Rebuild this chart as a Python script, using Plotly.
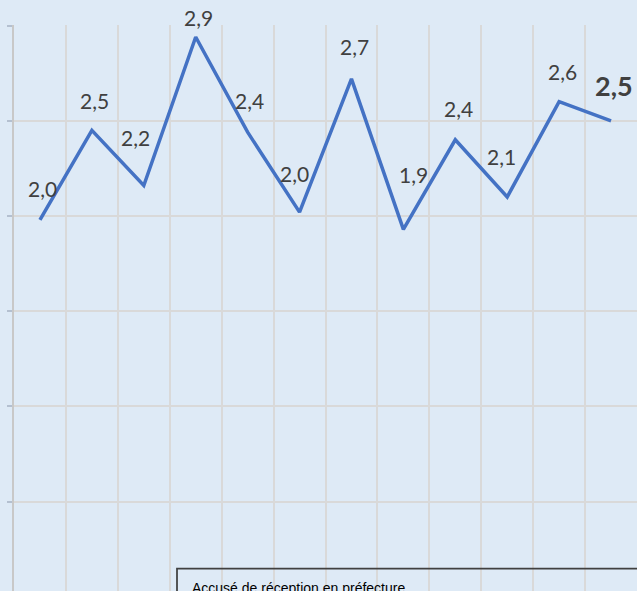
import plotly.graph_objects as go

# Data
periods = list(range(12))
values = [1.98, 2.45, 2.16, 2.94, 2.44, 2.02, 2.72, 1.93, 2.40, 2.10, 2.60, 2.50]
label_dx = [3, 3, -8, 3, 2, -5, 3, 10, 3, -6, 3, 3]
label_dy = [31, 30, 48, 20, 32, 39, 32, 55, 31, 40, 30, 35]
box_text = "Accusé de réception en préfecture"

W, H = 637, 591
ML, MT = 14, 25
BG = "#DEEAF6"

fig = go.Figure()
fig.add_trace(go.Scatter(
    x=periods, y=values, mode="lines",
    line=dict(color="#4472C4", width=3.5),
    hoverinfo="skip", showlegend=False,
))

annotations = []
n = len(values)
for i, v in enumerate(values):
    last = i == n - 1
    annotations.append(dict(
        x=periods[i], y=v, xref="x", yref="y",
        text=(f"<b>{v:.1f}</b>" if last else f"{v:.1f}").replace(".", ","),
        showarrow=False, xanchor="center", yanchor="middle",
        xshift=label_dx[i], yshift=label_dy[i],
        font=dict(family="Lato, Open Sans, sans-serif",
                  size=27 if last else 21, color="#404040"),
    ))

plot_h = H - MT
plot_w = W - ML
annotations.append(dict(
    x=(190 - ML) / plot_w, y=(H - 588) / plot_h, xref="paper", yref="paper",
    text=box_text, showarrow=False, xanchor="left", yanchor="middle",
    font=dict(family="Liberation Sans, Arial, sans-serif", size=14, color="#000000"),
))

fig.add_shape(type="rect", xref="paper", yref="paper",
              x0=(177 - ML) / plot_w, x1=1.2,
              y0=-0.3, y1=(H - 568.5) / plot_h,
              line=dict(color="#404040", width=1.75), fillcolor="rgba(0,0,0,0)")

fig.update_layout(
    width=W, height=H,
    margin=dict(l=ML, r=0, t=MT, b=0, pad=0),
    paper_bgcolor=BG, plot_bgcolor=BG,
    annotations=annotations,
    showlegend=False,
    hovermode=False,
)
fig.update_xaxes(
    range=[-0.5, 11.5],
    tickvals=[i + 0.5 for i in periods[:-1]],
    showticklabels=False, ticks="",
    showgrid=True, gridcolor="#D9D9D9", gridwidth=2,
    zeroline=False, showline=False,
)
fig.update_yaxes(
    range=[3.0 - plot_h / 190.6, 3.003],
    tickvals=[0.5, 1.0, 1.5, 2.0, 2.5, 3.0],
    showticklabels=False, ticks="outside", ticklen=5, tickcolor="#B4C0D0", tickwidth=2,
    showgrid=True, gridcolor="#D9D9D9", gridwidth=2,
    zeroline=False, showline=True, linecolor="#C8C8C8", linewidth=2,
)

fig.write_html(
    "out.html",
    config={"displayModeBar": False},
    post_script="document.body.style.margin='0';document.body.style.overflow='hidden';"
                "document.body.style.background='" + BG + "';",
)
